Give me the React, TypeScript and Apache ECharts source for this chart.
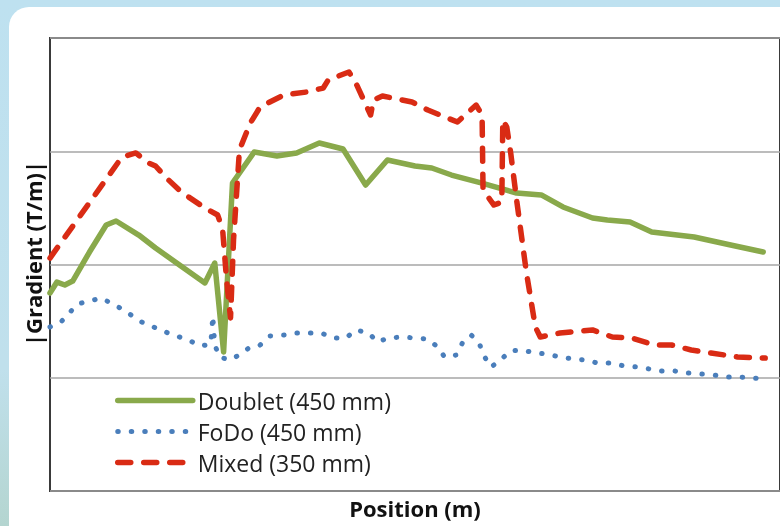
import React, { useEffect, useRef } from "react";
import * as echarts from "echarts";

// Position (m) and |Gradient| (T/m)
const doubletX = [0, 0.95, 2.03, 3.11, 5.41, 7.7, 9.05, 12.16, 14.46, 17.16, 21.22, 22.57, 23.78, 25.0, 27.97, 31.08, 33.78, 36.89, 40.14, 43.24, 46.22, 50.0, 52.3, 55.0, 59.05, 63.92, 67.3, 70.27, 74.32, 76.35, 79.46, 82.43, 88.24, 93.24, 97.7];
const doubletY = [1.748, 1.845, 1.819, 1.854, 2.11, 2.349, 2.384, 2.26, 2.146, 2.022, 1.837, 2.013, 1.227, 2.72, 2.993, 2.958, 2.985, 3.073, 3.02, 2.702, 2.923, 2.87, 2.852, 2.79, 2.72, 2.631, 2.614, 2.508, 2.411, 2.393, 2.375, 2.287, 2.243, 2.172, 2.11];

const fodoX = [0, 1.62, 3.78, 7.03, 9.86, 12.57, 15.81, 18.92, 20.68, 22.03, 22.3, 22.57, 23.24, 24.59, 25.95, 27.43, 28.78, 30.14, 32.03, 33.78, 35.54, 37.16, 38.78, 40.54, 41.89, 43.65, 44.86, 46.35, 48.24, 50.0, 51.76, 53.11, 54.05, 55.68, 56.49, 57.7, 58.78, 59.46, 60.41, 61.76, 62.97, 64.59, 66.49, 67.97, 69.86, 71.62, 73.38, 75.0, 76.76, 78.65, 80.41, 82.16, 83.78, 85.54, 87.43, 89.19, 90.95, 92.84, 94.32, 96.22, 97.97];
const fodoY = [1.448, 1.501, 1.651, 1.704, 1.607, 1.492, 1.404, 1.333, 1.28, 1.298, 1.545, 1.289, 1.183, 1.157, 1.201, 1.272, 1.289, 1.369, 1.377, 1.395, 1.395, 1.395, 1.351, 1.351, 1.422, 1.395, 1.316, 1.351, 1.36, 1.351, 1.342, 1.272, 1.183, 1.201, 1.307, 1.377, 1.307, 1.192, 1.095, 1.157, 1.236, 1.245, 1.219, 1.21, 1.183, 1.166, 1.157, 1.13, 1.13, 1.104, 1.095, 1.077, 1.06, 1.06, 1.042, 1.033, 1.024, 1.007, 1.007, 0.998, 0.989];

const mixedX = [0, 9.86, 11.76, 13.51, 14.46, 15.81, 17.97, 21.22, 22.97, 23.65, 24.19, 24.73, 25.14, 25.95, 27.43, 28.78, 32.03, 35.14, 37.43, 38.11, 40.95, 41.89, 43.92, 44.32, 45.54, 49.59, 51.76, 55.81, 58.38, 59.19, 59.32, 60.81, 61.89, 62.03, 62.57, 63.11, 63.92, 65.27, 66.49, 67.16, 69.86, 74.32, 77.03, 79.73, 82.84, 85.14, 87.84, 90.54, 94.19, 97.97];
const mixedY = [2.057, 2.949, 2.985, 2.896, 2.87, 2.773, 2.64, 2.499, 2.437, 2.305, 1.863, 1.528, 2.216, 3.011, 3.249, 3.391, 3.497, 3.523, 3.558, 3.629, 3.7, 3.603, 3.32, 3.453, 3.488, 3.435, 3.364, 3.258, 3.408, 3.32, 2.658, 2.525, 2.552, 3.276, 3.214, 2.985, 2.57, 1.925, 1.448, 1.36, 1.395, 1.422, 1.36, 1.351, 1.289, 1.289, 1.245, 1.219, 1.183, 1.174];

const seriesNames = ["Doublet (450 mm)", "FoDo (450 mm)", "Mixed (350 mm)"];
const yTicks = [0, 1, 2, 3, 4];

const zip = (xs: number[], ys: number[]) => xs.map((x, i) => [x, ys[i]]);

const GREEN = "#89A94B";
const BLUE = "#4A7EBB";
const RED = "#D92B14";
const DOT = [0.5, 13];
const DASH = [13, 13];

export default function App() {
  const ref = useRef<HTMLDivElement>(null);
  useEffect(() => {
    if (!ref.current) return;
    const chart = echarts.init(ref.current, undefined, { renderer: "svg" });
    const font = "'Open Sans', 'Noto Sans', sans-serif";
    chart.setOption({
      animation: false,
      graphic: [
        {
          type: "rect",
          z: -20,
          silent: true,
          shape: { x: 0, y: 0, width: 780, height: 526 },
          style: {
            fill: new echarts.graphic.LinearGradient(0, 0, 0, 1, [
              { offset: 0, color: "#BEE1F0" },
              { offset: 0.7, color: "#C0E0EC" },
              { offset: 1, color: "#B4D5D0" },
            ]),
          },
        },
        {
          type: "rect",
          z: -19,
          silent: true,
          shape: { x: 9, y: 7, width: 820, height: 560, r: 20 },
          style: { fill: "#FFFFFF" },
        },
      ],
      grid: {
        left: 50,
        top: 38,
        right: -10,
        bottom: 35,
        show: true,
        borderColor: "#3A3A3A",
        borderWidth: 2,
        backgroundColor: "transparent",
      },
      legend: {
        orient: "vertical",
        left: 110,
        top: 384,
        itemWidth: 75,
        itemHeight: 14,
        itemGap: 8,
        itemStyle: { color: "transparent", borderWidth: 0, opacity: 0 },
        data: [
          { name: seriesNames[0], lineStyle: { width: 5.5, color: GREEN, type: "solid", cap: "round" } },
          { name: seriesNames[1], lineStyle: { width: 5, color: BLUE, type: DOT, cap: "round" } },
          { name: seriesNames[2], lineStyle: { width: 5.5, color: RED, type: DASH, cap: "round" } },
        ],
        textStyle: { fontFamily: font, fontSize: 23, color: "#222", lineHeight: 22 },
      },
      xAxis: {
        type: "value",
        min: 0,
        max: 100,
        name: "Position (m)",
        nameLocation: "middle",
        nameGap: 6,
        nameTextStyle: {
          fontFamily: font,
          fontSize: 22,
          fontWeight: "bold",
          color: "#111",
          verticalAlign: "top",
        },
        axisLine: { show: false },
        axisTick: { show: false },
        axisLabel: { show: false },
        splitLine: { show: false },
      },
      yAxis: {
        type: "value",
        min: yTicks[0],
        max: yTicks[yTicks.length - 1],
        interval: 1,
        name: "|Gradient (T/m)|",
        nameLocation: "middle",
        nameGap: 6,
        nameTextStyle: {
          fontFamily: font,
          fontSize: 22,
          fontWeight: "bold",
          color: "#111",
          padding: [0, 0, 0, 22],
        },
        axisLine: { show: false },
        axisTick: { show: false },
        axisLabel: { show: false },
        splitLine: { show: true, lineStyle: { color: "#A6A6A6", width: 1.5 } },
      },
      series: [
        {
          name: seriesNames[0],
          type: "line",
          data: zip(doubletX, doubletY),
          symbol: "none",
          color: GREEN,
          lineStyle: { color: GREEN, width: 5.5, join: "round", cap: "round" },
          z: 3,
        },
        {
          name: seriesNames[1],
          type: "line",
          data: zip(fodoX, fodoY),
          symbol: "none",
          color: BLUE,
          lineStyle: { color: BLUE, width: 5, type: DOT, cap: "round", join: "round" },
          z: 2,
        },
        {
          name: seriesNames[2],
          type: "line",
          data: zip(mixedX, mixedY),
          symbol: "none",
          color: RED,
          lineStyle: { color: RED, width: 5.5, type: DASH, cap: "round", join: "round" },
          z: 4,
        },
      ],
    });
    return () => chart.dispose();
  }, []);
  return (
    <div
      ref={ref}
      style={{ position: "fixed", left: 0, top: 0, width: 780, height: 526 }}
    />
  );
}
